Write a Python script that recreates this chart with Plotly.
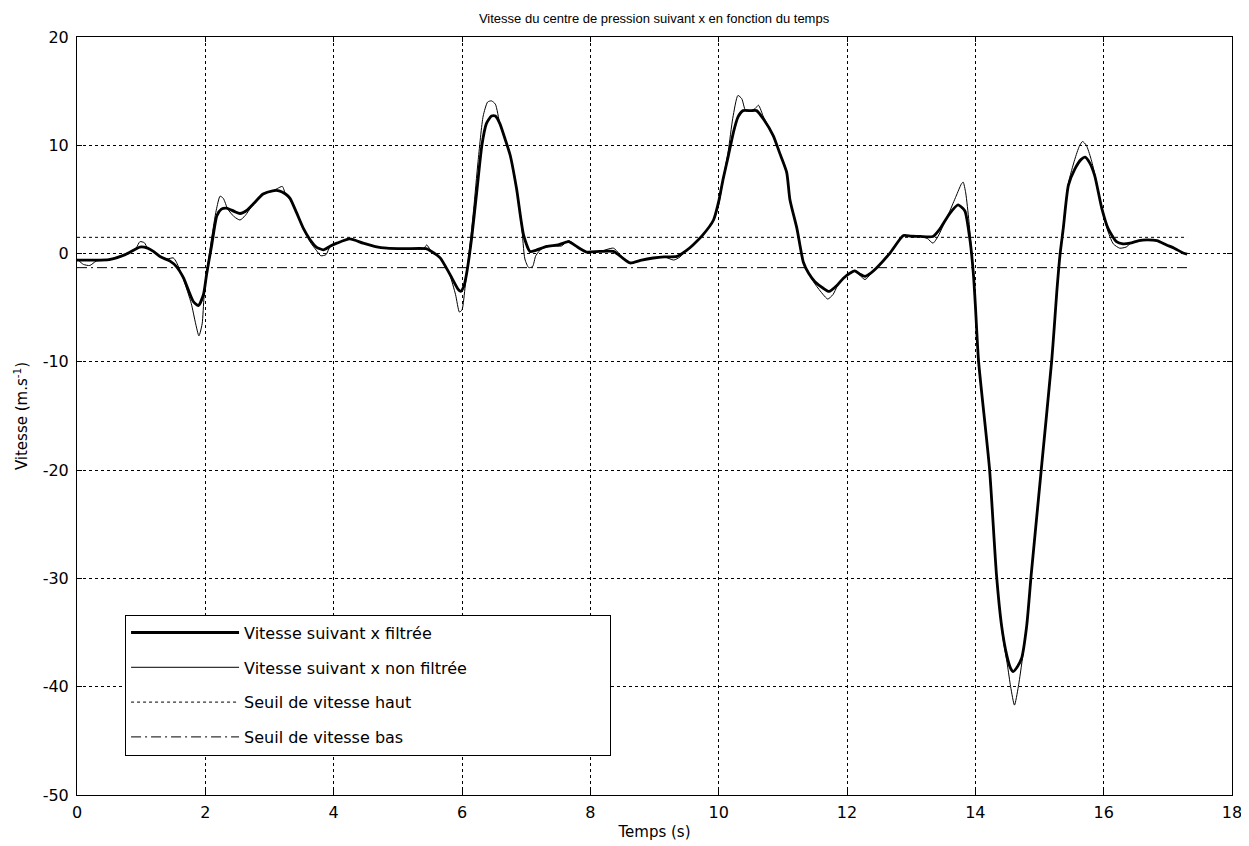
import plotly.graph_objects as go

# ---------------- data ----------------
t_filtre = [0.00, 0.25, 0.50, 0.75, 0.98, 1.10, 1.19, 1.30, 1.45, 1.55, 1.66, 1.81, 1.89, 1.97, 2.02,
            2.10, 2.18, 2.25, 2.33, 2.45, 2.54, 2.65, 2.75, 2.90, 3.05, 3.15, 3.25, 3.32, 3.42, 3.53,
            3.63, 3.73, 3.84, 3.95, 4.05, 4.25, 4.46, 4.65, 4.83, 5.10, 5.45, 5.55, 5.66, 5.81, 5.94,
            5.98, 6.03, 6.07, 6.15, 6.23, 6.31, 6.38, 6.46, 6.52, 6.59, 6.67, 6.75, 6.85, 6.96, 7.06,
            7.15, 7.32, 7.50, 7.66, 7.80, 7.94, 8.15, 8.36, 8.50, 8.62, 8.80, 8.98, 9.15, 9.35, 9.50,
            9.60, 9.75, 9.92, 10.00, 10.07, 10.15, 10.23, 10.30, 10.38, 10.50, 10.59, 10.70, 10.85,
            10.95, 11.06, 11.11, 11.22, 11.32, 11.40, 11.50, 11.63, 11.72, 11.85, 11.94, 12.05, 12.12,
            12.20, 12.28, 12.37, 12.46, 12.67, 12.88, 13.00, 13.14, 13.34, 13.45, 13.60, 13.73, 13.80,
            13.84, 13.92, 13.97, 14.00, 14.05, 14.22, 14.33, 14.41, 14.49, 14.55, 14.59, 14.65, 14.72,
            14.80, 14.87, 15.03, 15.19, 15.23, 15.27, 15.32, 15.37, 15.45, 15.55, 15.65, 15.71, 15.78,
            15.86, 15.97, 16.07, 16.20, 16.30, 16.41, 16.55, 16.67, 16.83, 16.98, 17.10, 17.24, 17.30]
v_filtre = [-0.6, -0.6, -0.55, -0.1, 0.6, 0.5, 0.2, -0.3, -0.7, -1.2, -2.25, -4.4, -4.8, -3.8, -1.9,
            0.8, 3.5, 4.1, 4.2, 3.9, 3.7, 4.0, 4.6, 5.5, 5.8, 5.8, 5.5, 5.1, 3.8, 2.3,
            1.3, 0.6, 0.35, 0.7, 0.96, 1.35, 0.96, 0.65, 0.5, 0.45, 0.44, 0.1, -0.4, -1.9, -3.3,
            -3.5, -3.0, -1.9, 1.4, 5.7, 10.0, 12.0, 12.7, 12.7, 12.0, 10.6, 9.1, 6.0, 1.7, 0.2,
            0.3, 0.66, 0.8, 1.1, 0.6, 0.14, 0.2, 0.2, -0.4, -0.87, -0.6, -0.41, -0.3, -0.26, 0.3,
            0.8, 1.7, 3.1, 4.8, 6.9, 9.0, 11.2, 12.6, 13.2, 13.2, 13.2, 12.4, 10.9,
            9.3, 7.5, 5.0, 2.3, -0.8, -1.8, -2.6, -3.2, -3.5, -2.9, -2.3, -1.8, -1.6,
            -1.9, -2.1, -1.8, -1.33, 0.05, 1.67, 1.6, 1.58, 1.58, 2.3, 3.7, 4.5, 4.2,
            3.9, 1.1, -1.9, -4.7, -9.9, -19.8, -29.7, -34.4, -37.1, -38.3, -38.6, -38.2, -37.4,
            -34.4, -29.7, -19.8, -9.9, -6.8, -3.5, -0.1, 2.3, 6.3, 7.8, 8.7, 8.9, 8.4,
            7.2, 4.2, 2.3, 1.1, 0.9, 0.96, 1.2, 1.27, 1.2, 0.8, 0.5, 0.05, -0.05]

t_brut = [0.00, 0.10, 0.20, 0.30, 0.50, 0.75, 0.92, 0.98, 1.05, 1.10, 1.19, 1.30, 1.40, 1.50, 1.55,
          1.66, 1.78, 1.85, 1.90, 1.95, 1.98, 2.02, 2.10, 2.17, 2.23, 2.28, 2.35, 2.45, 2.54, 2.62,
          2.75, 2.90, 3.05, 3.12, 3.20, 3.25, 3.32, 3.42, 3.53, 3.63, 3.73, 3.80, 3.88, 3.95, 4.05,
          4.25, 4.46, 4.65, 4.83, 5.10, 5.40, 5.45, 5.50, 5.55, 5.66, 5.81, 5.90, 5.96, 6.00, 6.05,
          6.10, 6.18, 6.25, 6.33, 6.40, 6.46, 6.52, 6.59, 6.67, 6.75, 6.85, 6.93, 6.98, 7.04, 7.10,
          7.15, 7.25, 7.40, 7.55, 7.66, 7.80, 7.94, 8.15, 8.36, 8.45, 8.62, 8.80, 8.98, 9.15, 9.30,
          9.40, 9.50, 9.60, 9.75, 9.92, 10.00, 10.07, 10.15, 10.22, 10.30, 10.36, 10.42, 10.50, 10.57,
          10.62, 10.70, 10.85, 10.95, 11.06, 11.11, 11.22, 11.32, 11.40, 11.50, 11.63, 11.70, 11.78,
          11.85, 11.94, 12.05, 12.12, 12.20, 12.28, 12.37, 12.46, 12.67, 12.88, 13.00, 13.14, 13.25,
          13.34, 13.42, 13.50, 13.60, 13.70, 13.78, 13.81, 13.85, 13.90, 13.95, 14.00, 14.05, 14.22,
          14.33, 14.43, 14.50, 14.55, 14.61, 14.67, 14.72, 14.80, 14.87, 15.03, 15.19, 15.23, 15.27,
          15.32, 15.37, 15.45, 15.55, 15.62, 15.67, 15.73, 15.80, 15.86, 15.97, 16.07, 16.15, 16.25,
          16.35, 16.41, 16.55, 16.67, 16.83, 16.98, 17.10, 17.24, 17.30]
v_brut = [-0.5, -1.0, -1.1, -0.7, -0.6, -0.1, 0.5, 1.1, 1.0, 0.5, 0.2, -0.3, -0.5, -0.4, -0.8,
          -2.4, -4.6, -6.5, -7.6, -6.5, -4.0, -1.9, 1.5, 4.0, 5.3, 5.1, 4.1, 3.4, 3.1, 3.5,
          4.6, 5.5, 5.8, 6.0, 6.2, 5.5, 5.0, 3.8, 2.3, 1.1, 0.3, -0.2, -0.1, 0.7, 0.96,
          1.4, 0.96, 0.65, 0.5, 0.45, 0.44, 0.8, 0.4, 0.1, -0.4, -2.0, -3.8, -5.4, -5.2, -3.0,
          -0.5, 4.0, 8.5, 12.7, 14.0, 14.1, 13.8, 12.0, 10.6, 9.1, 6.0, 2.5, -0.5, -1.3, -1.2,
          -0.2, 0.5, 0.7, 0.7, 1.2, 0.6, 0.14, 0.2, 0.5, 0.0, -0.9, -0.6, -0.41, -0.3, -0.6,
          -0.3, 0.3, 0.8, 1.7, 3.1, 4.5, 6.9, 9.5, 12.5, 14.6, 14.3, 13.2, 13.2, 13.4,
          13.7, 12.6, 10.9, 9.3, 7.5, 5.0, 2.3, -0.8, -1.8, -2.8, -3.8, -4.2, -3.8,
          -3.0, -2.3, -1.8, -1.6, -2.0, -2.4, -1.9, -1.33, 0.05, 1.67, 1.6, 1.58, 1.4,
          0.96, 1.6, 2.6, 3.9, 5.3, 6.4, 6.6, 5.6, 3.0, -0.5, -4.7, -9.9, -19.8,
          -29.7, -35.5, -38.0, -40.0, -41.7, -40.0, -38.0, -34.4, -29.7, -19.8, -9.9, -6.8, -3.5,
          -0.1, 2.5, 6.5, 8.7, 9.9, 10.35, 10.0, 8.8, 7.4, 4.2, 2.0, 0.9, 0.5,
          0.6, 0.9, 1.2, 1.27, 1.2, 0.8, 0.5, 0.05, -0.05]

t_seuil = [0.0, 17.3]
seuil_haut = [1.5, 1.5]
seuil_bas = [-1.3, -1.3]

x_ticks = [0, 2, 4, 6, 8, 10, 12, 14, 16, 18]
y_ticks = [-50, -40, -30, -20, -10, 0, 10, 20]

noms = ["Vitesse suivant x filtrée", "Vitesse suivant x non filtrée",
        "Seuil de vitesse haut", "Seuil de vitesse bas"]
titre = "Vitesse du centre de pression suivant x en fonction du temps"

# ---------------- figure ----------------
FONT = "DejaVu Sans, Verdana, sans-serif"
FONT_TITRE = "Liberation Sans, Arial, sans-serif"
PAD = "\u00a0" * 27  # widens the legend box like the reference

fig = go.Figure()
fig.add_trace(go.Scatter(x=t_filtre, y=v_filtre, mode="lines", name=noms[0], legendgroup="a",
                         line=dict(color="black", width=2.8, shape="spline", smoothing=0.6)))
fig.add_trace(go.Scatter(x=t_brut, y=v_brut, mode="lines", name=noms[1] + PAD, legendgroup="b",
                         line=dict(color="black", width=1, shape="spline", smoothing=0.6)))
fig.add_trace(go.Scatter(x=t_seuil, y=seuil_haut, mode="lines", name=noms[2], legendgroup="c",
                         line=dict(color="black", width=1, dash="dot")))
fig.add_trace(go.Scatter(x=t_seuil, y=seuil_bas, mode="lines", name=noms[3], legendgroup="d",
                         line=dict(color="black", width=1, dash="10px,4px,2px,4px")))

axis_common = dict(
    showline=True, linecolor="black", linewidth=1, mirror="ticks",
    ticks="inside", ticklen=5, tickcolor="black", automargin=False,
    showgrid=True, gridcolor="black", gridwidth=1, griddash="dot",
    zeroline=False, tickfont=dict(family=FONT, size=16, color="black"),
)
fig.update_xaxes(range=[0, 18], tickvals=x_ticks, ticktext=[str(v) for v in x_ticks],
                 ticklabelstandoff=3,
                 title=dict(text="Temps (s)", font=dict(family=FONT, size=15, color="black"), standoff=5),
                 **axis_common)
fig.update_yaxes(range=[-50, 20], tickvals=y_ticks, ticktext=[str(v) for v in y_ticks],
                 ticklabelstandoff=4,
                 title=dict(text="Vitesse (m.s<sup>-1</sup>)", font=dict(family=FONT, size=15, color="black"),
                            standoff=11),
                 **axis_common)

fig.update_layout(
    width=1241, height=838,
    margin=dict(l=69, r=17, t=29, b=51, autoexpand=False),
    paper_bgcolor="white", plot_bgcolor="white",
    title=dict(text=titre, x=0.5206, xanchor="center", y=0.988, yanchor="middle", yref="container",
               font=dict(family=FONT_TITRE, size=13, color="black")),
    showlegend=True,
    legend=dict(x=0.0416, y=0.238, xanchor="left", yanchor="top",
                bgcolor="white", bordercolor="black", borderwidth=1,
                font=dict(family=FONT, size=16, color="black"),
                tracegroupgap=11, itemwidth=108, traceorder="grouped"),
)

fig.write_html("out.html")
